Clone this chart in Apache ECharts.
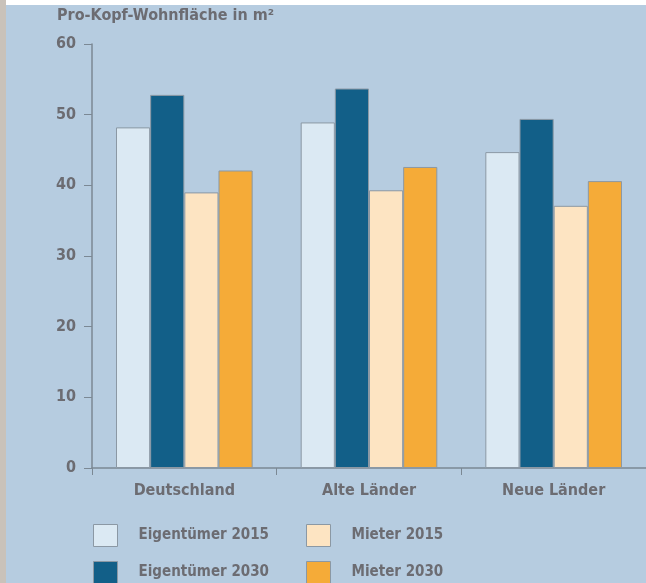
<!DOCTYPE html>
<html>
<head>
<meta charset="utf-8">
<script src="https://cdn.jsdelivr.net/npm/echarts@6/dist/echarts.min.js"></script>
<style>
	html, body { margin: 0; padding: 0; background: #fff; }
	#chart { width: 646px; height: 583px; }
</style>
</head>
<body>
<div id="chart"></div>
<script>
"use strict";

var regions = ["Deutschland", "Alte Länder", "Neue Länder"];
var seriesNames = ["Eigentümer 2015", "Eigentümer 2030", "Mieter 2015", "Mieter 2030"];
var eigentuemer2015 = [48.2, 48.9, 44.7];
var eigentuemer2030 = [52.8, 53.7, 49.4];
var mieter2015 = [39.0, 39.3, 37.1];
var mieter2030 = [42.1, 42.6, 40.6];
var yTicks = [0, 10, 20, 30, 40, 50, 60];

var colors = ["#dbe9f3", "#125f88", "#fde4c2", "#f5ab38"];
var font = "'Liberation Sans Narrow', 'DejaVu Sans Condensed', sans-serif";
var textGray = "#6c6c72";

var chart = echarts.init(document.getElementById("chart"));

function makeSeries(name, values, idx) {
	return {
		name: name,
		type: "bar",
		data: values,
		barGap: "0%",
		barCategoryGap: "26%",
		itemStyle: {
			color: colors[idx],
			borderColor: "#8b98a4",
			borderWidth: 1
		},
		emphasis: { disabled: true }
	};
}

// one legend per item so they sit in a 2x2 block
var legendPos = [[93, 524], [93, 561], [306, 524], [306, 561]];
var legends = seriesNames.map(function (n, i) {
	return {
		data: [n],
		left: legendPos[i][0],
		top: legendPos[i][1],
		padding: 0,
		itemWidth: 24,
		itemHeight: 22,
		selectedMode: false,
		icon: "rect",
		itemStyle: { borderColor: "#8b98a4", borderWidth: 1 },
		textStyle: {
			fontFamily: font,
			fontSize: 15,
			fontWeight: "bold",
			color: textGray,
			padding: [0, 0, 0, 16]
		}
	};
});

var option = {
	backgroundColor: "#b6cce0",
	animation: false,
	title: {
		text: "Pro-Kopf-Wohnfläche in m²",
		left: 57,
		top: 8,
		padding: 0,
		textStyle: {
			fontFamily: font,
			fontSize: 16,
			fontWeight: "bold",
			color: textGray
		}
	},
	graphic: [
		{ type: "rect", left: 0, top: 0, z: -10, shape: { width: 646, height: 5 }, style: { fill: "#ffffff" } },
		{ type: "rect", left: 0, top: 0, z: -10, shape: { width: 6, height: 583 }, style: { fill: "#c9c2ba" } }
	],
	legend: legends,
	grid: {
		left: 92,
		right: -1,
		top: 44,
		bottom: 115,
		containLabel: false
	},
	xAxis: {
		type: "category",
		data: regions,
		axisLine: { lineStyle: { color: "#7b8894", width: 1.5 } },
		axisTick: { show: true, length: 7, lineStyle: { color: "#7b8894" } },
		axisLabel: {
			margin: 15,
			fontFamily: font,
			fontSize: 16,
			fontWeight: "bold",
			color: textGray
		}
	},
	yAxis: {
		type: "value",
		min: yTicks[0],
		max: yTicks[yTicks.length - 1],
		interval: 10,
		splitLine: { show: false },
		axisLine: { show: true, lineStyle: { color: "#7b8894", width: 1.5 } },
		axisTick: { show: true, length: 8, lineStyle: { color: "#7b8894" } },
		axisLabel: {
			margin: 16,
			fontFamily: font,
			fontSize: 16,
			fontWeight: "bold",
			color: textGray
		}
	},
	series: [
		makeSeries(seriesNames[0], eigentuemer2015, 0),
		makeSeries(seriesNames[1], eigentuemer2030, 1),
		makeSeries(seriesNames[2], mieter2015, 2),
		makeSeries(seriesNames[3], mieter2030, 3)
	]
};

chart.setOption(option);
</script>
</body>
</html>
